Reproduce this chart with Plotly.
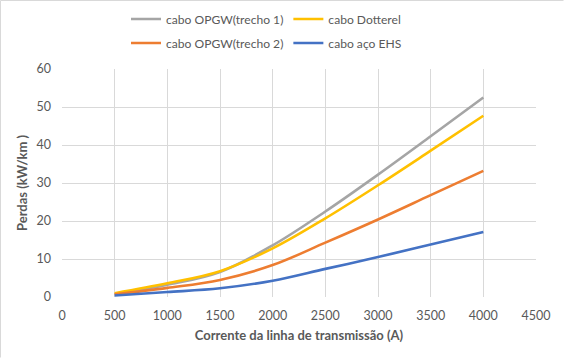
import plotly.graph_objects as go

corrente = [500, 1000, 1500, 2000, 2500, 3000, 3500, 4000]
opgw1 = [0.7, 3.2, 6.6, 13.6, 22.5, 32.2, 42.3, 52.5]
dotterel = [1.0, 3.6, 6.8, 12.8, 20.7, 29.4, 38.5, 47.7]
opgw2 = [0.7, 2.4, 4.5, 8.4, 14.3, 20.4, 26.8, 33.2]
aco_ehs = [0.4, 1.3, 2.3, 4.3, 7.4, 10.5, 13.8, 17.1]

names = ["cabo OPGW(trecho 1)", "cabo Dotterel", "cabo OPGW(trecho 2)", "cabo aço EHS"]
series = [opgw1, dotterel, opgw2, aco_ehs]
colors = ["#A5A5A5", "#FFC000", "#ED7D31", "#4472C4"]
legends = ["legend", "legend", "legend2", "legend2"]

FONT = "Lato"
TXT = "#595959"

fig = go.Figure()
for n, s, c, lg in zip(names, series, colors, legends):
    fig.add_trace(go.Scatter(x=corrente, y=s, name=n, mode="lines",
                             line=dict(color=c, width=2.6, shape="spline"),
                             legend=lg))

W, H = 564, 358
L, R, T, B = 62, 28, 69, 61
pw, ph = W - L - R, H - T - B

def px_x(p):
    return (p - L) / pw

def px_y(p):
    return (H - B - p) / ph

leg_common = dict(orientation="h", xanchor="left", yanchor="middle",
                  xref="container", yref="container",
                  font=dict(family=FONT, size=12.1, color=TXT),
                  bgcolor="rgba(0,0,0,0)", itemwidth=30, tracegroupgap=0)

fig.update_layout(
    width=W, height=H,
    margin=dict(l=L, r=R, t=T, b=B, autoexpand=False),
    paper_bgcolor="white", plot_bgcolor="white",
    font=dict(family=FONT, size=12, color=TXT),
    legend=dict(x=126 / W, y=1 - 19 / H, **leg_common),
    legend2=dict(x=126 / W, y=1 - 43 / H, **leg_common),
    xaxis=dict(range=[0, 4500], dtick=500, tick0=0, showgrid=True,
               gridcolor="#D9D9D9", gridwidth=1, zeroline=False, showline=False,
               ticks="", ticklabelstandoff=9,
               tickfont=dict(family=FONT, size=12.5, color=TXT),
               title=dict(text="<b>Corrente da linha de transmissão (A)</b>",
                          font=dict(family=FONT, size=13, color=TXT), standoff=9)),
    yaxis=dict(range=[0, 60], dtick=10, showgrid=True, gridcolor="#D9D9D9",
               gridwidth=1, zeroline=False, showline=False, ticks="",
               ticklabelstandoff=10,
               tickfont=dict(family=FONT, size=12.5, color=TXT),
               title=dict(text="<b>Perdas (kW/km )</b>",
                          font=dict(family=FONT, size=13, color=TXT), standoff=5)),
    shapes=[
        dict(type="line", xref="paper", yref="paper", x0=px_x(0.5), x1=px_x(563.5),
             y0=px_y(0.5), y1=px_y(0.5), line=dict(color="#D9D9D9", width=1)),
        dict(type="line", xref="paper", yref="paper", x0=px_x(0.5), x1=px_x(0.5),
             y0=px_y(0.5), y1=px_y(357.5), line=dict(color="#D9D9D9", width=1)),
    ],
)

fig.write_html("out.html", config={"displayModeBar": False},
               post_script="document.body.style.margin='0';document.body.style.padding='0';")
